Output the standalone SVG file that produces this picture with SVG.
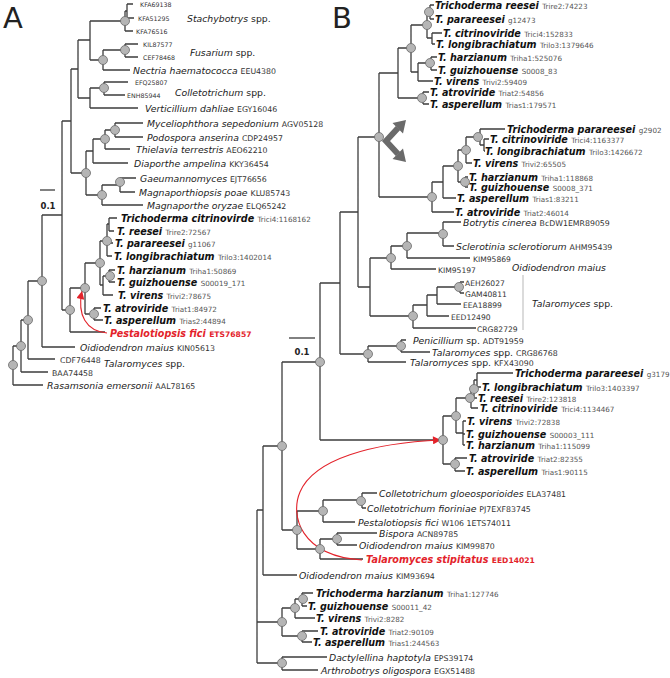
<svg xmlns="http://www.w3.org/2000/svg" width="670" height="678" viewBox="0 0 670 678">
<style>
text{font-family:"DejaVu Sans","Liberation Sans",sans-serif}
.sp{font-style:italic;font-size:9.3px;fill:#222}
.tb{font-style:italic;font-weight:bold;font-size:9.6px;fill:#111}
.ac{font-style:normal;font-weight:normal;font-size:7.8px;fill:#333}
.ca{font-style:normal;font-weight:normal;font-size:6.3px;fill:#333}
.cb{font-style:normal;font-weight:normal;font-size:7.6px;fill:#333}
.ta{font-style:normal;font-weight:normal;font-size:7.2px;fill:#555}
.up{font-style:normal}
.red{fill:#e3232b}
.redac{font-style:normal;font-weight:bold;font-size:7.6px;fill:#e3232b}
.big{font-size:29px;fill:#222}
.sc{font-weight:bold;font-size:8.5px;fill:#222}
.ln{fill:none;stroke:#3d3d3d;stroke-width:1.3}
.nd{fill:#b5b5b5;stroke:#6a6a6a;stroke-width:0.8}
.arr{fill:none;stroke:#e3232b;stroke-width:1.1}
</style>
<defs>
<marker id="rh" viewBox="0 0 10 10" refX="10" refY="5" markerWidth="10" markerHeight="8" markerUnits="userSpaceOnUse" orient="auto"><path d="M0,0 L10,5 L0,10 z" fill="#e3232b"/></marker>
</defs>

<text class="big" x="3" y="28">A</text>
<text class="big" x="332" y="28">B</text>

<g id="connectors">
<path class="ln" d="M127,4V18 M127,4H133 M127,18H134 M125,11H127 M125,11V31 M125,31H133 M90,21H125
M125,44V57 M125,44H138 M125,57H138 M103,50H125 M103,50V70 M103,70H130 M90,60H103 M90,21V60 M78,40H90
M104,82V95 M104,82H128 M104,95H125 M90,88H104 M90,88V108 M90,108H138 M78,98H90 M78,40V98 M71,69H78
M115,123V137 M115,123H143 M115,137H143 M105,130H115 M105,130V149 M105,149H130 M93,139H105 M93,139V163 M93,163H128 M86,151H93
M120,178V192 M120,178H136 M120,192H135 M102,185H120 M102,185V205 M102,205H143 M86,195H102 M86,151V195 M71,173H86 M71,69V173 M62,121H71 M62,121V310
M109,218V231 M109,218H117 M109,231H114 M107,224H109 M107,224V256 M107,243H113 M107,256H112
M109,270V282 M109,270H115 M109,282H115 M103,276H109 M103,276V295 M103,295H113 M100,285H103 M100,241H107 M100,241V285 M85,263H100
M94,308V320 M94,308H101 M94,320H103 M85,314H94 M85,263V314 M70,288H85 M70,288V332 M70,332H105 M62,310H70
M42,215H62 M42,215V347 M42,347H75 M28,281H42 M28,281V359 M28,359H55 M21,320H28 M21,320V372 M21,372H48 M13,346H21 M13,346V385 M13,385H43"/>
<path class="ln" d="M430,5V19 M430,5H434 M430,19H434 M427,12H430 M432,33V44 M432,33H442 M432,44H435 M427,38H432 M427,12V38 M411,25H427
M431,57V70 M431,57H437 M431,70H437 M418,63H431 M418,63V81 M418,81H433 M411,72H418 M411,25V72 M398,48H411
M423,92V104 M423,92H429 M423,104H429 M398,98H423 M398,48V98 M379,73H398
M484,139V151 M484,139H489 M484,151H485 M480,129V145 M480,129H505 M480,145H484 M466,137H480 M466,137V163 M466,163H472
M465,177V187 M465,177H468 M465,187H468 M458,150H466 M458,150V182 M458,182H465 M443,166H458 M443,166V198 M443,198H456
M432,182H443 M432,182V212 M432,212H454 M379,197H432 M379,73V197 M358,137H379
M443,222V246 M443,222H461 M443,246H454 M407,233H443 M407,233V258 M407,258H470 M391,246H407 M391,246V269 M391,269H436 M370,258H391
M460,282V293 M460,282H464 M460,293H464 M437,287H460 M437,287V304 M437,304H461 M427,295H437 M427,295V316 M427,316H449 M413,305H427 M413,305V328 M413,328H476 M370,316H413 M370,258V316 M358,287H370 M358,137V287 M340,212H358
M401,340V352 M401,340H406 M401,352H430 M368,346H401 M368,346V362 M368,362H406 M340,354H368 M340,212V354 M320,283H340 M320,283V440 M320,440H443
M477,373V387 M477,373H513 M477,387H481 M474,380H477 M474,380V398 M474,398H477 M471,389H474 M471,389V408 M471,408H478 M456,398H471
M463,421V445 M463,421H466 M463,434H465 M463,445H465 M456,433H463 M456,398V433 M443,416H456 M455,458V471 M455,458H467 M455,471H465 M443,464H455 M443,416V464
M362,493V508 M362,493H377 M362,508H366 M323,500H362 M323,500V522 M323,522H355 M337,533V545 M337,533H377 M337,545H357 M320,539H337 M320,539V559 M320,559H363 M297,511H323 M297,511V549 M297,549H320 M282,530H297 M282,362H320 M282,362V530 M263,446H282 M263,446V575 M263,575H297 M257,510H263
M302,593V606 M302,593H313 M302,606H307 M295,599H302 M295,599V618 M295,618H315 M302,631V642 M302,631H318 M302,642H312 M282,608H295 M282,608V636 M282,636H302 M282,657V670 M282,657H327 M282,670H318 M257,622H282 M257,663H282 M257,510V663"/>
<line x1="523" y1="275" x2="523" y2="330" stroke="#cfcfcf" stroke-width="1.5"/>
<path class="arr" d="M107,333 C86,331 77,315 82,291" marker-end="url(#rh)"/>
<path class="arr" d="M362,560 C300,556 290,515 300,492 C314,459 372,443 441,440" marker-end="url(#rh)"/>
</g>

<g id="branch-points">
<circle class="nd" cx="125" cy="21" r="4.5"/><circle class="nd" cx="125" cy="50" r="4.5"/><circle class="nd" cx="103" cy="60" r="4.5"/>
<circle class="nd" cx="104" cy="88" r="4.5"/><circle class="nd" cx="115" cy="130" r="4.5"/><circle class="nd" cx="105" cy="139" r="4.5"/>
<circle class="nd" cx="86" cy="173" r="4.5"/><circle class="nd" cx="102" cy="195" r="4.5"/><circle class="nd" cx="120" cy="182" r="4.5"/>
<circle class="nd" cx="107" cy="241" r="4.5"/><circle class="nd" cx="110" cy="276" r="4.5"/><circle class="nd" cx="100" cy="263" r="4.5"/>
<circle class="nd" cx="94" cy="314" r="4.5"/><circle class="nd" cx="85" cy="288" r="4.5"/><circle class="nd" cx="70" cy="310" r="4.5"/>
<circle class="nd" cx="42" cy="281" r="4.5"/><circle class="nd" cx="28" cy="320" r="4.5"/><circle class="nd" cx="21" cy="346" r="4.5"/><circle class="nd" cx="13" cy="365" r="4.5"/>
<circle class="nd" cx="429" cy="12" r="4.5"/><circle class="nd" cx="427" cy="25" r="4.5"/><circle class="nd" cx="430" cy="63" r="4.5"/>
<circle class="nd" cx="411" cy="48" r="4.5"/><circle class="nd" cx="422" cy="98" r="4.5"/><circle class="nd" cx="478" cy="137" r="4.5"/>
<circle class="nd" cx="466" cy="150" r="4.5"/><circle class="nd" cx="465" cy="182" r="4.5"/><circle class="nd" cx="458" cy="166" r="4.5"/>
<circle class="nd" cx="432" cy="197" r="4.5"/><circle class="nd" cx="379" cy="137" r="4.5"/>
<circle class="nd" cx="443" cy="234" r="4.5"/><circle class="nd" cx="407" cy="246" r="4.5"/><circle class="nd" cx="391" cy="258" r="4.5"/>
<circle class="nd" cx="459" cy="287" r="4.5"/><circle class="nd" cx="413" cy="316" r="4.5"/><circle class="nd" cx="401" cy="346" r="4.5"/>
<circle class="nd" cx="368" cy="354" r="4.5"/><circle class="nd" cx="320" cy="362" r="4.5"/>
<circle class="nd" cx="474" cy="389" r="4.5"/><circle class="nd" cx="470" cy="398" r="4.5"/><circle class="nd" cx="456" cy="416" r="4.5"/>
<circle class="nd" cx="455" cy="464" r="4.5"/><circle class="nd" cx="443" cy="440" r="4.5"/>
<circle class="nd" cx="361" cy="501" r="4.5"/><circle class="nd" cx="323" cy="511" r="4.5"/><circle class="nd" cx="337" cy="539" r="4.5"/>
<circle class="nd" cx="320" cy="549" r="4.5"/><circle class="nd" cx="297" cy="530" r="4.5"/><circle class="nd" cx="282" cy="446" r="4.5"/>
<circle class="nd" cx="303" cy="599" r="4.5"/><circle class="nd" cx="295" cy="608" r="4.5"/><circle class="nd" cx="302" cy="636" r="4.5"/>
<circle class="nd" cx="282" cy="622" r="4.5"/><circle class="nd" cx="282" cy="663" r="4.5"/>
</g>

<g id="fork-icon">
<path d="M398,128 L386,141 L398,154" fill="none" stroke="#6a6a6a" stroke-width="6"/>
<path d="M392.5,123 L406,120 L403,133.5 z M392.5,159 L406,162 L403,148.5 z" fill="#6a6a6a"/>
</g>

<g id="scale-A"><path class="ln" d="M40,190H55"/><text class="sc" x="48" y="209" text-anchor="middle">0.1</text></g>
<g id="scale-B"><path class="ln" d="M289,338H315"/><text class="sc" x="302" y="355" text-anchor="middle">0.1</text></g>

<!-- Panel A leaves -->
<g id="a-kfa69138"><text class="ca" x="140" y="7">KFA69138</text></g>
<g id="a-kfa51295"><text class="ca" x="138" y="21">KFA51295</text></g>
<g id="a-kfa76516"><text class="ca" x="136" y="34">KFA76516</text></g>
<g id="a-stachybotrys"><text class="sp" x="187" y="22">Stachybotrys<tspan class="up"> spp.</tspan></text></g>
<g id="a-kil87577"><text class="ca" x="143" y="47">KIL87577</text></g>
<g id="a-cef78468"><text class="ca" x="143" y="60">CEF78468</text></g>
<g id="a-fusarium"><text class="sp" x="190" y="55.5">Fusarium<tspan class="up"> spp.</tspan></text></g>
<g id="a-nectria"><text class="sp" x="133" y="73.5">Nectria haematococca <tspan class="ac">EEU4380</tspan></text></g>
<g id="a-efq25807"><text class="ca" x="135" y="85">EFQ25807</text></g>
<g id="a-enh85944"><text class="ca" x="127" y="98">ENH85944</text></g>
<g id="a-colletotrichum"><text class="sp" x="175" y="95.5">Colletotrichum<tspan class="up"> spp.</tspan></text></g>
<g id="a-verticillium"><text class="sp" x="145" y="111.5">Verticillium dahliae <tspan class="ac">EGY16046</tspan></text></g>
<g id="a-myceliophthora"><text class="sp" x="147" y="126.5">Myceliophthora sepedonium <tspan class="ac">AGV05128</tspan></text></g>
<g id="a-podospora"><text class="sp" x="147" y="140.5">Podospora anserina <tspan class="ac">CDP24957</tspan></text></g>
<g id="a-thielavia"><text class="sp" x="136" y="152.5">Thielavia terrestris <tspan class="ac">AEO62210</tspan></text></g>
<g id="a-diaporthe"><text class="sp" x="134" y="166.5">Diaporthe ampelina <tspan class="ac">KKY36454</tspan></text></g>
<g id="a-gaeumannomyces"><text class="sp" x="140" y="181.5">Gaeumannomyces <tspan class="ac">EJT76656</tspan></text></g>
<g id="a-magnaporthiopsis"><text class="sp" x="139" y="195.5">Magnaporthiopsis poae <tspan class="ac">KLU85743</tspan></text></g>
<g id="a-magnaporthe"><text class="sp" x="147" y="208.5">Magnaporthe oryzae <tspan class="ac">ELQ65242</tspan></text></g>
<g id="a-tcitrinoviride"><text class="tb" x="121" y="221.5">Trichoderma citrinovirde <tspan class="ta">Trici4:1168162</tspan></text></g>
<g id="a-treesei"><text class="tb" x="117" y="234.5">T. reesei <tspan class="ta">Trire2:72567</tspan></text></g>
<g id="a-tparareesei"><text class="tb" x="115" y="246.5">T. parareesei <tspan class="ta">g11067</tspan></text></g>
<g id="a-tlongibrachiatum"><text class="tb" x="114" y="259.5">T. longibrachiatum <tspan class="ta">Trilo3:1402014</tspan></text></g>
<g id="a-tharzianum"><text class="tb" x="117" y="273.5">T. harzianum <tspan class="ta">Triha1:50869</tspan></text></g>
<g id="a-tguizhouense"><text class="tb" x="117" y="285.5">T. guizhouense <tspan class="ta">S00019_171</tspan></text></g>
<g id="a-tvirens"><text class="tb" x="118" y="298.5">T. virens <tspan class="ta">Trivi2:78675</tspan></text></g>
<g id="a-tatroviride"><text class="tb" x="103" y="311.5">T. atroviride <tspan class="ta">Triat1:84972</tspan></text></g>
<g id="a-tasperellum"><text class="tb" x="104" y="323.5">T. asperellum <tspan class="ta">Trias2:44894</tspan></text></g>
<g id="a-pestalotiopsis"><text class="tb red" x="110" y="336.5">Pestalotiopsis fici <tspan class="redac">ETS76857</tspan></text></g>
<g id="a-oidiodendron"><text class="sp" x="80" y="350.5">Oidiodendron maius <tspan class="ac">KIN05613</tspan></text></g>
<g id="a-cdf76448"><text class="ac" x="60" y="362.5">CDF76448</text></g>
<g id="a-baa74458"><text class="ac" x="52" y="375.5">BAA74458</text></g>
<g id="a-talaromyces"><text class="sp" x="104" y="367">Talaromyces<tspan class="up"> spp.</tspan></text></g>
<g id="a-rasamsonia"><text class="sp" x="47" y="388.5">Rasamsonia emersonii <tspan class="ac">AAL78165</tspan></text></g>

<!-- Panel B leaves -->
<g id="b-treesei1"><text class="tb" x="435" y="8.5">Trichoderma reesei <tspan class="ta">Trire2:74223</tspan></text></g>
<g id="b-tparareesei1"><text class="tb" x="435" y="22.5">T. parareesei <tspan class="ta">g12473</tspan></text></g>
<g id="b-tcitrinoviride1"><text class="tb" x="443" y="36.5">T. citrinoviride <tspan class="ta">Trici4:152833</tspan></text></g>
<g id="b-tlongibrachiatum1"><text class="tb" x="436" y="47.5">T. longibrachiatum <tspan class="ta">Trilo3:1379646</tspan></text></g>
<g id="b-tharzianum1"><text class="tb" x="438" y="60.5">T. harzianum <tspan class="ta">Triha1:525076</tspan></text></g>
<g id="b-tguizhouense1"><text class="tb" x="438" y="73.5">T. guizhouense <tspan class="ta">S0008_83</tspan></text></g>
<g id="b-tvirens1"><text class="tb" x="434" y="84.5">T. virens <tspan class="ta">Trivi2:59409</tspan></text></g>
<g id="b-tatroviride1"><text class="tb" x="430" y="95.5">T. atroviride <tspan class="ta">Triat2:54856</tspan></text></g>
<g id="b-tasperellum1"><text class="tb" x="430" y="107.5">T. asperellum <tspan class="ta">Trias1:179571</tspan></text></g>
<g id="b-tparareesei2"><text class="tb" x="507" y="132.5">Trichoderma parareesei <tspan class="ta">g2902</tspan></text></g>
<g id="b-tcitrinoviride2"><text class="tb" x="490" y="142.5">T. citrinoviride <tspan class="ta">Trici4:1163377</tspan></text></g>
<g id="b-tlongibrachiatum2"><text class="tb" x="485" y="154.5">T. longibrachiatum <tspan class="ta">Trilo3:1426672</tspan></text></g>
<g id="b-tvirens2"><text class="tb" x="473" y="166.5">T. virens <tspan class="ta">Trivi2:65505</tspan></text></g>
<g id="b-tharzianum2"><text class="tb" x="469" y="180.5">T. harzianum <tspan class="ta">Triha1:118868</tspan></text></g>
<g id="b-tguizhouense2"><text class="tb" x="469" y="190.5">T. guizhouense <tspan class="ta">S0008_371</tspan></text></g>
<g id="b-tasperellum2"><text class="tb" x="457" y="201.5">T. asperellum <tspan class="ta">Trias1:83211</tspan></text></g>
<g id="b-tatroviride2"><text class="tb" x="455" y="215.5">T. atroviride <tspan class="ta">Triat2:46014</tspan></text></g>
<g id="b-botrytis"><text class="sp" x="463" y="225.5">Botrytis cinerea <tspan class="ac">BcDW1EMR89059</tspan></text></g>
<g id="b-sclerotinia"><text class="sp" x="456" y="249.5">Sclerotinia sclerotiorum <tspan class="ac">AHM95439</tspan></text></g>
<g id="b-kim95869"><text class="cb" x="473" y="261.5">KIM95869</text></g>
<g id="b-kim95197"><text class="cb" x="438" y="272.5">KIM95197</text></g>
<g id="b-oidiodendron-label"><text class="sp" x="512" y="270.5">Oidiodendron maius</text></g>
<g id="b-aeh26027"><text class="cb" x="465" y="285.5">AEH26027</text></g>
<g id="b-gam40811"><text class="cb" x="465" y="296.5">GAM40811</text></g>
<g id="b-eea18899"><text class="cb" x="463" y="307.5">EEA18899</text></g>
<g id="b-eed12490"><text class="cb" x="451" y="319.5">EED12490</text></g>
<g id="b-crg82729"><text class="cb" x="477" y="331.5">CRG82729</text></g>
<g id="b-talaromyces-label"><text class="sp" x="532" y="306.5">Talaromyces<tspan class="up"> spp.</tspan></text></g>
<g id="b-penicillium"><text class="sp" x="413" y="343.5">Penicillium<tspan class="up"> sp. </tspan><tspan class="ac">ADT91959</tspan></text></g>
<g id="b-crg86768"><text class="sp" x="432" y="355.5">Talaromyces<tspan class="up"> spp. </tspan><tspan class="ac">CRG86768</tspan></text></g>
<g id="b-kfx43090"><text class="sp" x="410" y="365.5">Talaromyces<tspan class="up"> spp. </tspan><tspan class="ac">KFX43090</tspan></text></g>
<g id="b-tparareesei3"><text class="tb" x="515" y="376.5">Trichoderma parareesei <tspan class="ta">g3179</tspan></text></g>
<g id="b-tlongibrachiatum3"><text class="tb" x="482" y="390.5">T. longibrachiatum <tspan class="ta">Trilo3:1403397</tspan></text></g>
<g id="b-treesei3"><text class="tb" x="478" y="401.5">T. reesei <tspan class="ta">Trire2:123818</tspan></text></g>
<g id="b-tcitrinoviride3"><text class="tb" x="480" y="411.5">T. citrinoviride <tspan class="ta">Trici4:1134467</tspan></text></g>
<g id="b-tvirens3"><text class="tb" x="467" y="424.5">T. virens <tspan class="ta">Trivi2:72838</tspan></text></g>
<g id="b-tguizhouense3"><text class="tb" x="466" y="437.5">T. guizhouense <tspan class="ta">S00003_111</tspan></text></g>
<g id="b-tharzianum3"><text class="tb" x="466" y="448.5">T. harzianum <tspan class="ta">Triha1:115099</tspan></text></g>
<g id="b-tatroviride3"><text class="tb" x="469" y="461.5">T. atroviride <tspan class="ta">Triat2:82355</tspan></text></g>
<g id="b-tasperellum3"><text class="tb" x="466" y="474.5">T. asperellum <tspan class="ta">Trias1:90115</tspan></text></g>
<g id="b-cgloeosporioides"><text class="sp" x="379" y="496.5">Colletotrichum gloeosporioides <tspan class="ac">ELA37481</tspan></text></g>
<g id="b-cfioriniae"><text class="sp" x="367" y="511.5">Colletotrichum fioriniae <tspan class="ac">PJ7EXF83745</tspan></text></g>
<g id="b-pestalotiopsis"><text class="sp" x="358" y="525.5">Pestalotiopsis fici <tspan class="ac">W106 1ETS74011</tspan></text></g>
<g id="b-bispora"><text class="sp" x="379" y="536.5">Bispora <tspan class="ac">ACN89785</tspan></text></g>
<g id="b-kim99870"><text class="sp" x="359" y="548.5">Oidiodendron maius <tspan class="ac">KIM99870</tspan></text></g>
<g id="b-tstipitatus"><text class="tb red" x="366" y="562.5">Talaromyces stipitatus <tspan class="redac">EED14021</tspan></text></g>
<g id="b-kim93694"><text class="sp" x="299" y="578.5">Oidiodendron maius <tspan class="ac">KIM93694</tspan></text></g>
<g id="b-tharzianum4"><text class="tb" x="316" y="596.5">Trichoderma harzianum <tspan class="ta">Triha1:127746</tspan></text></g>
<g id="b-tguizhouense4"><text class="tb" x="308" y="609.5">T. guizhouense <tspan class="ta">S00011_42</tspan></text></g>
<g id="b-tvirens4"><text class="tb" x="316" y="621.5">T. virens <tspan class="ta">Trivi2:8282</tspan></text></g>
<g id="b-tatroviride4"><text class="tb" x="320" y="634.5">T. atroviride <tspan class="ta">Triat2:90109</tspan></text></g>
<g id="b-tasperellum4"><text class="tb" x="313" y="645.5">T. asperellum <tspan class="ta">Trias1:244563</tspan></text></g>
<g id="b-dactylellina"><text class="sp" x="329" y="660.5">Dactylellina haptotyla <tspan class="ac">EPS39174</tspan></text></g>
<g id="b-arthrobotrys"><text class="sp" x="321" y="673.5">Arthrobotrys oligospora <tspan class="ac">EGX51488</tspan></text></g>
</svg>
